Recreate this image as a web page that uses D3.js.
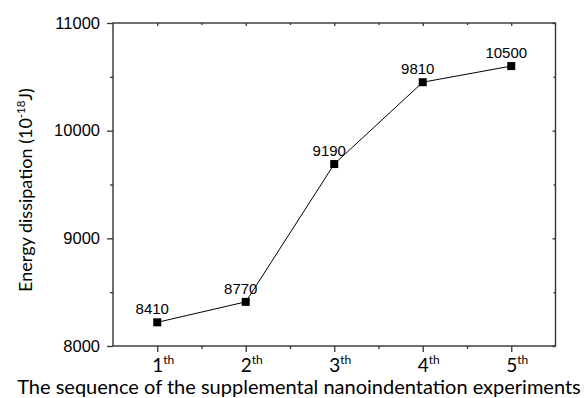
<!DOCTYPE html>
<html><head><meta charset="utf-8">
<script src="https://cdn.jsdelivr.net/npm/d3@7/dist/d3.min.js"></script>
<style>body{margin:0;background:#fff}svg{display:block}</style>
</head><body>
<svg id="c" width="585" height="398"></svg>
<script>
const categories = [1, 2, 3, 4, 5];
const tickNumbers = ["1", "2", "3", "4", "5"];
const tickSuffix = "th";
const values = [8220, 8410, 9690, 10450, 10600];
const pointLabels = ["8410", "8770", "9190", "9810", "10500"];
const yTicks = [8000, 9000, 10000, 11000];
const yMinor = [8500, 9500, 10500];
const xMinor = [1.5, 2.5, 3.5, 4.5];

const svg = d3.select("#c");
const L = 113, R = 555.5, T = 23, B = 346;
const x = d3.scaleLinear().domain([0.5, 5.5]).range([L, R]);
const y = d3.scaleLinear().domain([8000, 11000]).range([B, T]);
const axisColor = "#333";
const sans = "'Liberation Sans', Arial, sans-serif";
const cal = "Lato, 'Open Sans', sans-serif";

// frame
svg.append("rect").attr("x", L).attr("y", T).attr("width", R - L).attr("height", B - T)
  .attr("fill", "none").attr("stroke", axisColor).attr("stroke-width", 1.4);

function styleAxis(g) {
  g.select(".domain").remove();
  g.selectAll("line").attr("stroke", axisColor).attr("stroke-width", 1.3);
  return g;
}

// bottom axis
styleAxis(svg.append("g").attr("transform", `translate(0,${B})`)
  .call(d3.axisBottom(x).tickValues(categories).tickSize(6).tickFormat(() => "")));
styleAxis(svg.append("g").attr("transform", `translate(0,${B})`)
  .call(d3.axisBottom(x).tickValues(xMinor).tickSize(3).tickFormat(() => "")));

// top axis (inward)
[[categories, 3], [xMinor, 2]].forEach(([tv, s]) => {
  styleAxis(svg.append("g").attr("transform", `translate(0,${T})`)
    .call(d3.axisBottom(x).tickValues(tv).tickSize(s).tickFormat(() => "")));
});

// left axis
const yl = styleAxis(svg.append("g").attr("transform", `translate(${L},0)`)
  .call(d3.axisLeft(y).tickValues(yTicks).tickSize(6).tickPadding(7).tickFormat(d3.format("d"))));
yl.selectAll("text").attr("font-family", sans).attr("font-size", 16.5).attr("fill", "#000");
styleAxis(svg.append("g").attr("transform", `translate(${L},0)`)
  .call(d3.axisLeft(y).tickValues(yMinor).tickSize(3).tickFormat(() => "")));

// right axis (inward)
[[yTicks, 3], [yMinor, 2]].forEach(([tv, s]) => {
  styleAxis(svg.append("g").attr("transform", `translate(${R},0)`)
    .call(d3.axisRight(y).tickValues(tv).tickSize(-s).tickFormat(() => "")));
});

// x tick labels with superscript
categories.forEach((c, i) => {
  const t = svg.append("text").attr("x", x(c) - 5).attr("y", B + 26)
    .attr("text-anchor", "start").attr("fill", "#000");
  t.append("tspan").attr("font-family", cal).attr("font-size", 19).text(tickNumbers[i]);
  t.append("tspan").attr("font-family", cal).attr("font-size", 12).attr("dy", -8).text(tickSuffix);
});

// line
svg.append("path").datum(values)
  .attr("d", d3.line().x((d, i) => x(categories[i])).y(d => y(d)))
  .attr("fill", "none").attr("stroke", "#000").attr("stroke-width", 1);

// markers
svg.selectAll("rect.m").data(values).enter().append("rect").attr("class", "m")
  .attr("x", (d, i) => x(categories[i]) - 4).attr("y", d => y(d) - 4)
  .attr("width", 8).attr("height", 8).attr("fill", "#000");

// point labels
svg.selectAll("text.pl").data(values).enter().append("text").attr("class", "pl")
  .attr("x", (d, i) => x(categories[i]) - 5).attr("y", d => y(d) - 8)
  .attr("text-anchor", "middle").attr("font-family", sans)
  .attr("font-size", 15).attr("fill", "#000").text((d, i) => pointLabels[i]);

// axis titles
svg.append("text").attr("x", 299).attr("y", 394).attr("text-anchor", "middle")
  .attr("font-family", cal).attr("font-size", 20).attr("fill", "#000")
  .text("The sequence of the supplemental nanoindentation experiments");

const yt = svg.append("text").attr("transform", `translate(32,190) rotate(-90)`)
  .attr("text-anchor", "middle").attr("font-family", cal)
  .attr("font-size", 18).attr("fill", "#000");
yt.append("tspan").text("Energy dissipation (10");
yt.append("tspan").attr("font-size", 11.5).attr("dy", -7).text("-18");
yt.append("tspan").attr("dy", 7).text("J)");
</script>
</body></html>
